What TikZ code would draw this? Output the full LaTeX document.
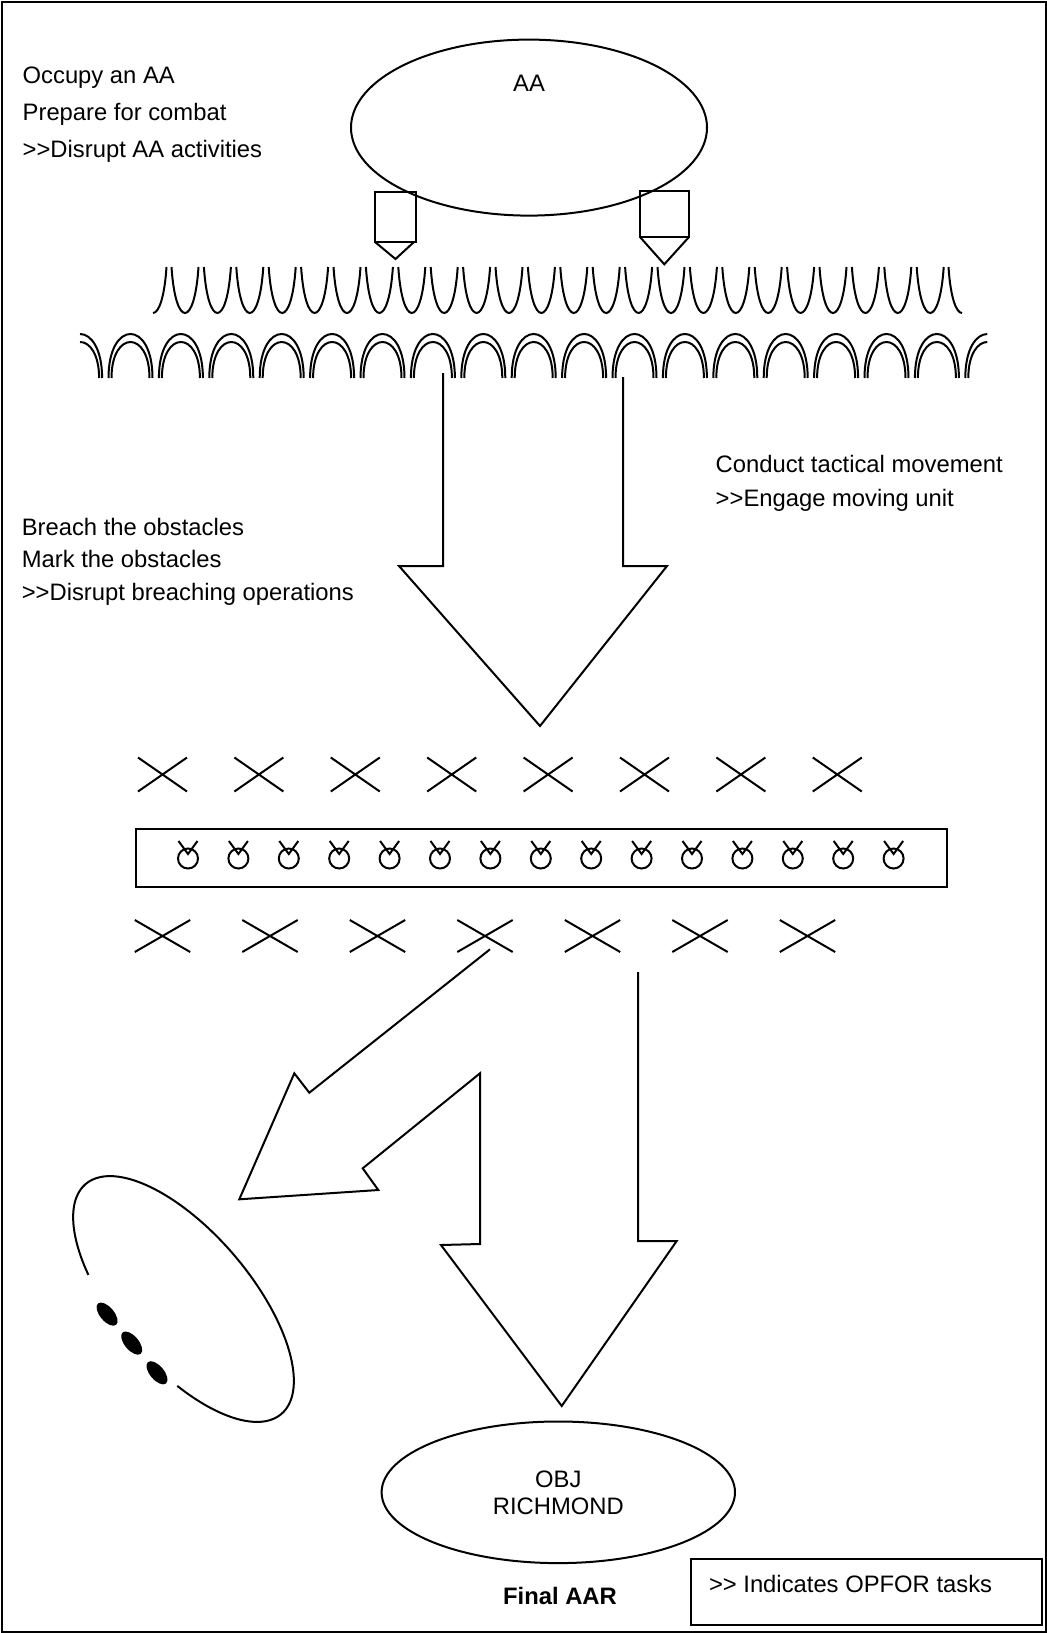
\documentclass[tikz,border=0pt]{standalone}
\usepackage{fontspec}
\setmainfont{Liberation Sans}
\usetikzlibrary{shapes.geometric}

\tikzset{
  task/.style={anchor=base west, align=left, inner sep=0pt},
  area/.style={draw, ellipse, inner sep=0pt},
  txt/.style={font=\fontsize{11.9}{14.3}\selectfont}
}

\begin{document}
\begin{tikzpicture}[x=0.5pt, y=-0.5pt, line width=1pt, every node/.style={txt}]
  \useasboundingbox (0,0) rectangle (1047,1633);
  \draw (1.5,1.5) rectangle (1045.5,1631.5);

  % assembly area and tasks
  \node[area, minimum width=178pt, minimum height=88pt] (AA) at (529,127.6) {};
  \node (AAname) at (529,83) {AA};
  \node[task, font=\fontsize{11.9}{18.3}\selectfont] (AAtasks) at (21.7,157)
    {Occupy an AA\\Prepare for combat\\>{}>Disrupt AA activities};
  \draw (375,192) rectangle (416,242);
  \draw (375,242) -- (395.5,259) -- (414,242);
  \draw (640,191) rectangle (689,237);
  \draw (640,237) -- (664.3,264.3) -- (689,237);

  % wire obstacles
  \foreach \k in {0,...,23} {
    \pgfmathsetmacro\a{171.5+32.4*\k}
    \draw (\a,267) .. controls (\a+4,328.3) and (\a+23,328.3) .. (\a+27,267);
  }
  \draw (153,313) .. controls (158.75,313) and (164.5,297.7) .. (166.5,267);
  \draw (948.5,267) .. controls (950.5,297.7) and (956.25,313) .. (962,313);
  \foreach \k in {0,...,16} {
    \pgfmathsetmacro\c{130.5+50.4*\k}
    \draw (\c-22,378) .. controls (\c-22,319.3) and (\c+22,319.3) .. (\c+22,378);
    \draw (\c-19,378) .. controls (\c-19,330) and (\c+19,330) .. (\c+19,378);
  }
  \draw (80.1,334) .. controls (91.1,334) and (102.1,348.7) .. (102.1,378);
  \draw (80.1,342) .. controls (89.6,342) and (99.1,354) .. (99.1,378);
  \draw (965.3,378) .. controls (965.3,348.7) and (976.3,334) .. (987.3,334);
  \draw (968.3,378) .. controls (968.3,354) and (977.8,342) .. (987.3,342);

  % movement to the obstacle belt
  \draw (443,373) -- (443,566) -- (399,566) -- (540,726) -- (667,566) -- (623,566) -- (623,377);
  \node[task, font=\fontsize{11.9}{16.7}\selectfont] (movetasks) at (714.7,506)
    {Conduct tactical movement\\>{}>Engage moving unit};
  \node[task, font=\fontsize{11.9}{16.2}\selectfont] (breachtasks) at (20.8,600)
    {Breach the obstacles\\Mark the obstacles\\>{}>Disrupt breaching operations};

  % obstacle belt
  \foreach \k in {0,...,7} {
    \pgfmathsetmacro\c{162.5+96.4*\k}
    \draw (\c-24.5,757.5) -- (\c+24.5,791.5) (\c-24.5,791.5) -- (\c+24.5,757.5);
  }
  \draw (136,829) rectangle (947,887);
  \foreach \k in {0,...,14} {
    \pgfmathsetmacro\c{188+50.4*\k}
    \draw (\c,858.5) circle [radius=10];
    \draw (\c-9.5,841) -- (\c,854) -- (\c+9.5,841);
  }
  \foreach \k in {0,...,6} {
    \pgfmathsetmacro\c{162.5+107.5*\k}
    \draw (\c-27.7,920) -- (\c+27.7,952) (\c-27.7,952) -- (\c+27.7,920);
  }

  % bypass and attack on the objective
  \draw (490,949.3) -- (309.3,1092.7) -- (294.3,1073.3) -- (239.3,1199.3) -- (378.3,1190)
    -- (362.7,1168.3) -- (480,1073.3) -- (480,1244) -- (441,1245) -- (561.7,1406)
    -- (676.7,1241) -- (638,1241) -- (638,972);
  \begin{scope}[shift={(183.5,1299)}, rotate=-49.6]
    \draw plot[domain=122:425.7, samples=90, smooth] ({151*cos(\x)},{67*sin(\x)});
    \foreach \u in {-38,0,39}
      \fill (\u,68) ellipse [x radius=14, y radius=7];
  \end{scope}

  \node[area, minimum width=176.7pt, minimum height=70.8pt, align=center,
    font=\fontsize{11.9}{13.5}\selectfont] (OBJ) at (558.3,1492.3) {OBJ\\RICHMOND};
  \node[font=\bfseries\fontsize{11.9}{14.3}\selectfont] (finalAAR) at (560,1596) {Final AAR};

  % legend
  \node[draw, anchor=north west, minimum width=175.5pt, minimum height=33pt, inner sep=0pt] (legend) at (690,1558) {};
  \node[task] (legendtext) at (708,1592.7) {>{}> Indicates OPFOR tasks};
\end{tikzpicture}
\end{document}
